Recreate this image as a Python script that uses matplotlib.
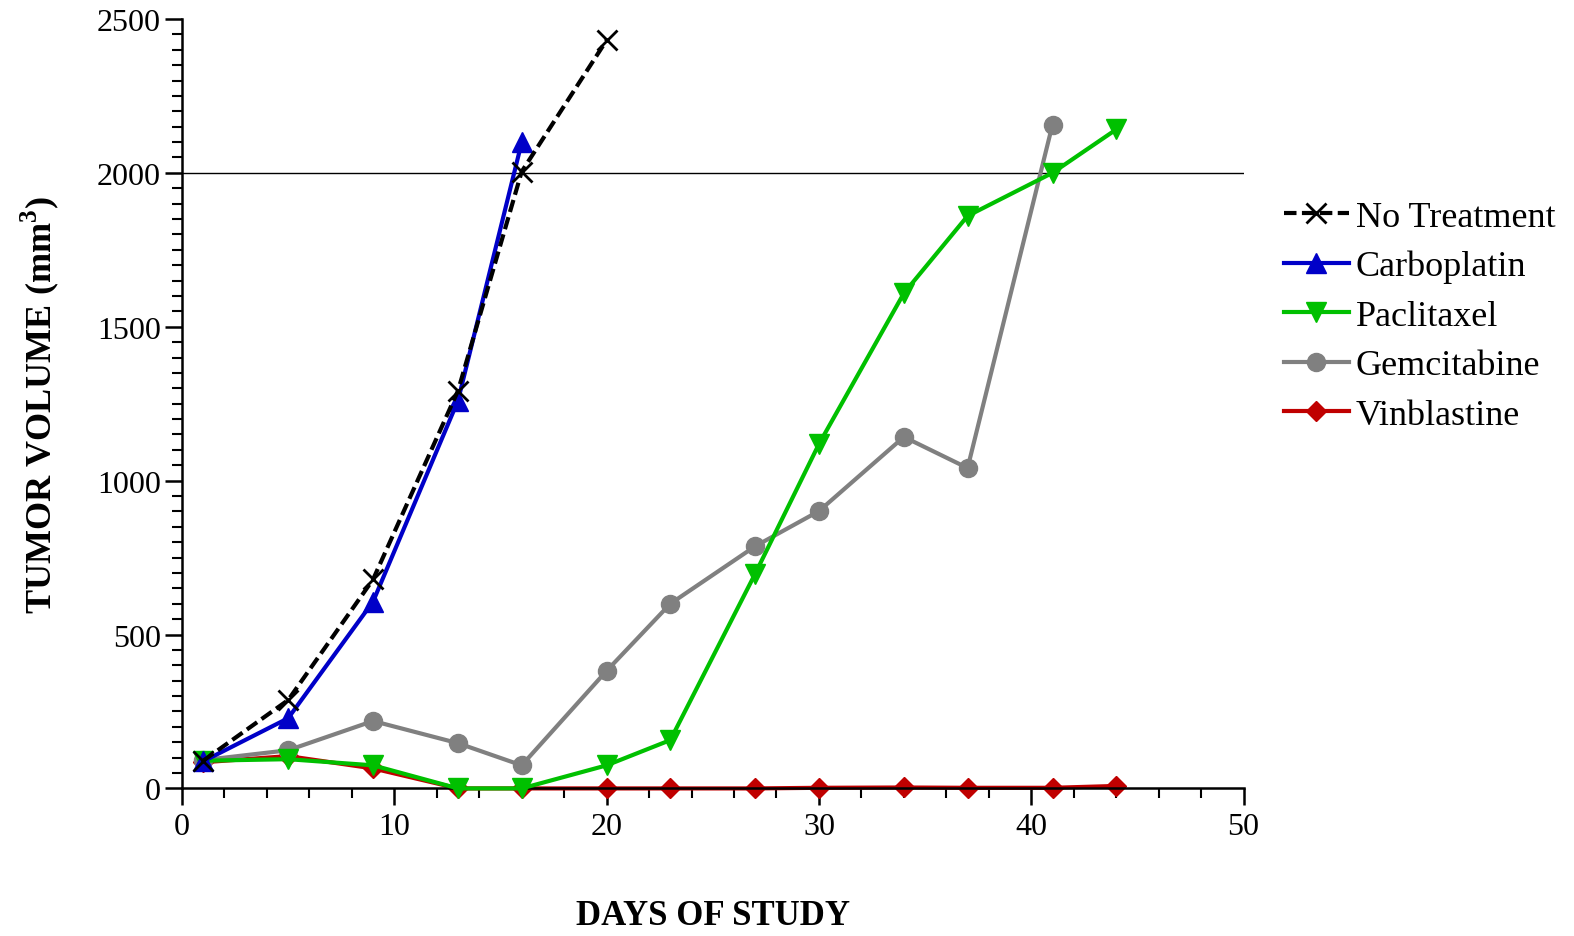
import matplotlib
matplotlib.use("Agg")
import matplotlib.pyplot as plt
from matplotlib.ticker import MultipleLocator

plt.rcParams['font.family'] = ['Liberation Serif', 'DejaVu Serif']
plt.rcParams['mathtext.fontset'] = 'custom'
plt.rcParams['mathtext.rm'] = 'Liberation Serif'
plt.rcParams['mathtext.bf'] = 'Liberation Serif:bold'

# data
days_nt = [1, 5, 9, 13, 16, 20]
no_treatment = [90, 287, 679, 1292, 2004, 2431]

days_carbo = [1, 5, 9, 13, 16]
carboplatin = [88, 228, 607, 1260, 2099]

days_pacli = [1, 5, 9, 13, 16, 20, 23, 27, 30, 34, 37, 41, 44]
paclitaxel = [90, 95, 75, 0, 0, 75, 157, 698, 1119, 1609, 1860, 2000, 2141]

days_gem = [1, 5, 9, 13, 16, 20, 23, 27, 30, 34, 37, 41]
gemcitabine = [92, 124, 219, 147, 75, 382, 600, 787, 901, 1142, 1041, 2157]

days_vin = [1, 5, 9, 13, 16, 20, 23, 27, 30, 34, 37, 41, 44]
vinblastine = [85, 105, 65, 0, 0, 0, 0, 0, 2, 3, 2, 2, 8]

fig = plt.figure(figsize=(15.74, 9.37), dpi=100)
ax = fig.add_axes([0.1156, 0.1575, 0.6745, 0.8212])

ax.axhline(2000, color='black', lw=1.0, zorder=1)

lw = 3.0
ax.plot(days_vin, vinblastine, color='#C00000', lw=lw, marker='D', ms=10,
        label='Vinblastine', zorder=2, clip_on=False)
ax.plot(days_gem, gemcitabine, color='#808080', lw=lw, marker='o', ms=13,
        label='Gemcitabine', zorder=3, clip_on=False)
ax.plot(days_pacli, paclitaxel, color='#00C000', lw=lw, marker='v', ms=14,
        label='Paclitaxel', zorder=4, clip_on=False)
ax.plot(days_carbo, carboplatin, color='#0000C8', lw=lw, marker='^', ms=14,
        label='Carboplatin', zorder=5, clip_on=False)
ax.plot(days_nt, no_treatment, color='black', lw=lw, ls=(0, (3, 1.3)), marker='x',
        ms=15, mew=2.0, label='No Treatment', zorder=6, clip_on=False)

ax.set_xlim(0, 50)
ax.set_ylim(0, 2500)
ax.xaxis.set_major_locator(MultipleLocator(10))
ax.xaxis.set_minor_locator(MultipleLocator(2))
ax.yaxis.set_major_locator(MultipleLocator(500))
ax.yaxis.set_minor_locator(MultipleLocator(50))

for s in ['top', 'right']:
    ax.spines[s].set_visible(False)
for s in ['left', 'bottom']:
    ax.spines[s].set_linewidth(1.8)

ax.tick_params(which='major', length=12, width=1.8, labelsize=23, direction='out')
ax.tick_params(which='minor', length=7, width=1.5, direction='out')
ax.tick_params(axis='x', which='major', pad=5)
ax.tick_params(axis='y', which='major', pad=3)

ax.set_xlabel('DAYS OF STUDY', fontsize=25, fontweight='bold', labelpad=42)
ax.set_ylabel(r'TUMOR VOLUME (mm$^\mathbf{3}$)', fontsize=26, fontweight='bold', labelpad=26)

handles, labels = ax.get_legend_handles_labels()
order = [4, 3, 2, 1, 0]
ax.legend([handles[i] for i in order], [labels[i] for i in order],
          loc='upper left', bbox_to_anchor=(1.024, 0.783), frameon=False,
          fontsize=26, handlelength=1.8, handletextpad=0.2, labelspacing=0.45,
          borderaxespad=0)

fig.savefig('out.png', dpi=100)
